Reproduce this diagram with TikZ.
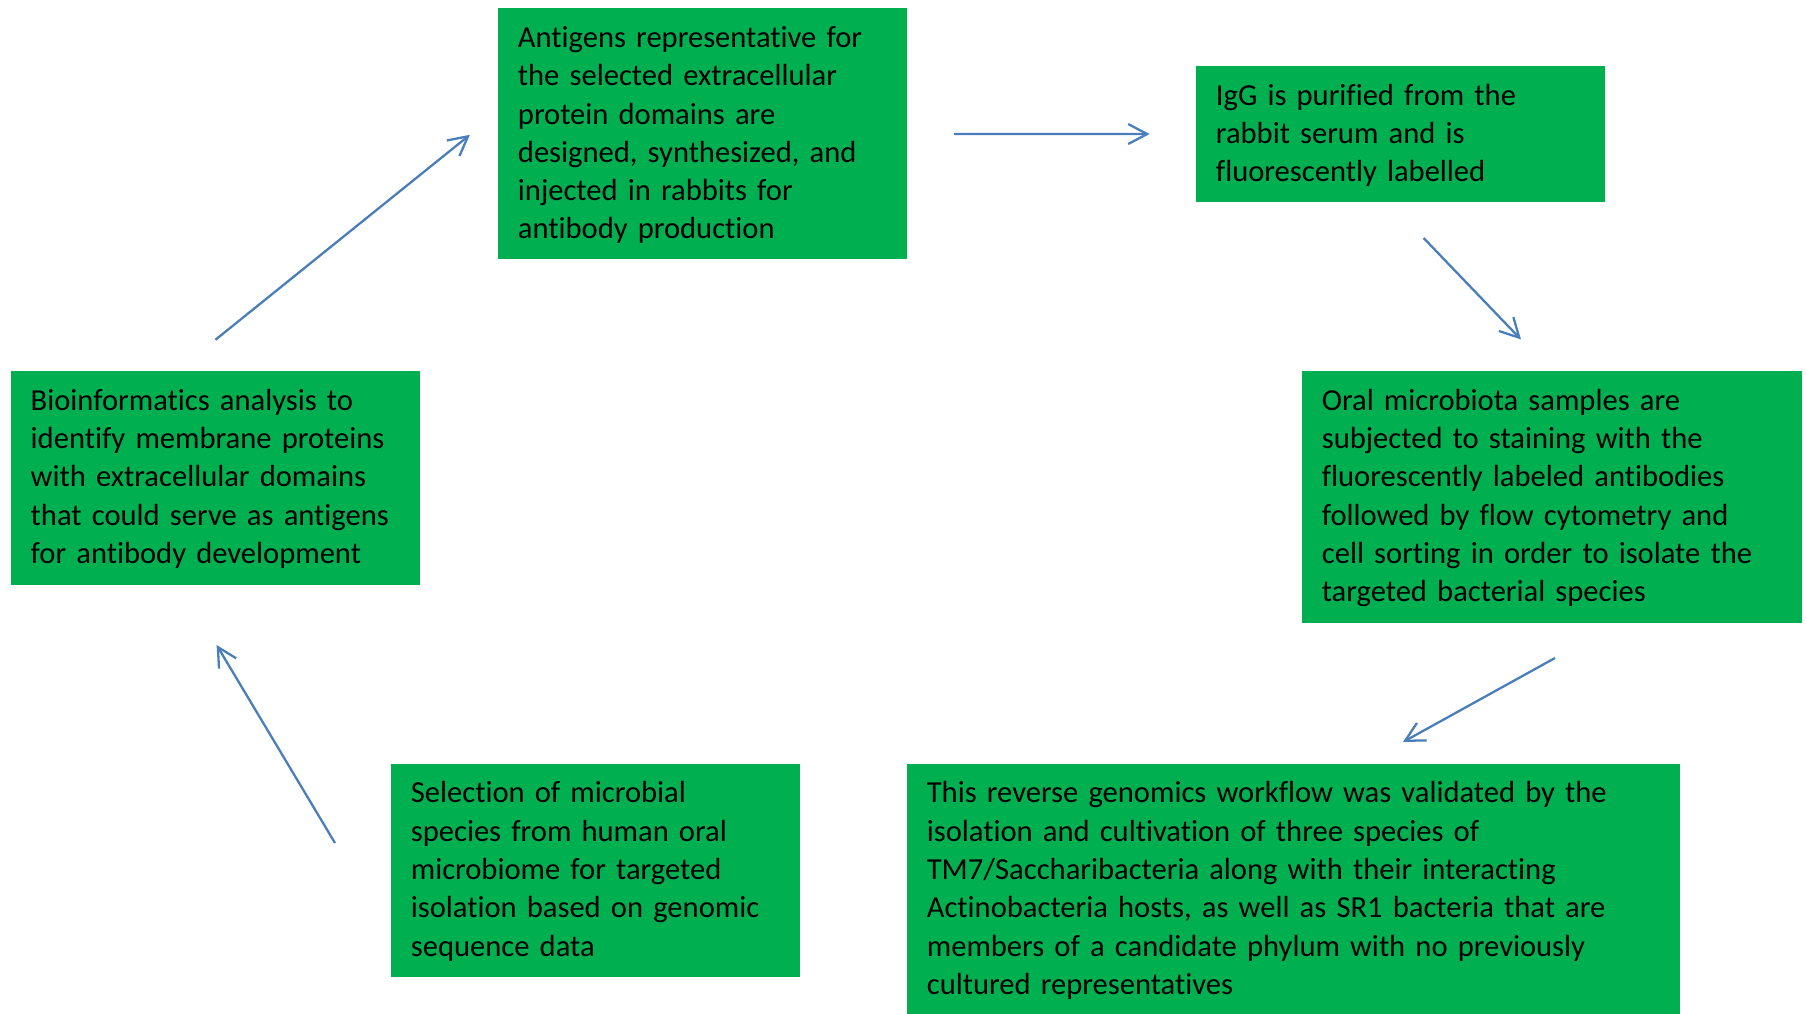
\documentclass[tikz,border=0pt]{standalone}
\usepackage{fontspec}
\setmainfont[Ligatures={NoCommon}]{Carlito}
\usepackage{xcolor}
\usepackage{tikz}
\usetikzlibrary{arrows.meta,positioning,calc}
\definecolor{cGreen}{HTML}{00B050}
\definecolor{cArrow}{HTML}{4A7EBB}
\tikzset{
  gbox/.style={fill=cGreen,draw=none,anchor=north west,align=left,inner xsep=0.4cm,inner ysep=0pt,
    text height=0.78cm,font={\fontsize{17.4}{21.8}\selectfont\hyphenpenalty=10000},text=black},
  arr/.style={-{Straight Barb[length=0.38cm,width=0.4cm]},line width=1.3pt,color=cArrow},
}

\begin{document}
\begin{tikzpicture}[x=0.02cm,y=-0.02cm]
  \useasboundingbox (0,0) rectangle (1806,1014);
  % steps of the cycle (top-left corners, text hangs from the top)
  \node[gbox,text width=7.38cm,text depth=4.24cm] (ant) at (497.6,8.1)
    {Antigens representative for\\the selected extracellular\\protein domains are\\designed, synthesized, and\\injected in rabbits for\\antibody production};
  \node[gbox,text width=7.38cm,text depth=1.94cm] (igg) at (1195.6,65.7)
    {IgG is purified from the\\rabbit serum and is\\fluorescently labelled};
  \node[gbox,text width=9.2cm,text depth=4.26cm] (oral) at (1301.5,370.9)
    {Oral microbiota samples are\\subjected to staining with the\\fluorescently labeled antibodies\\followed by flow cytometry and\\cell sorting in order to isolate the\\targeted bacterial species};
  \node[gbox,text width=14.66cm,text depth=4.22cm] (valid) at (906.5,763.6)
    {This reverse genomics workflow was validated by the\\isolation and cultivation of three species of\\TM7/Saccharibacteria along with their interacting\\Actinobacteria hosts, as well as SR1 bacteria that are\\members of a candidate phylum with no previously\\cultured representatives};
  \node[gbox,text width=7.38cm,text depth=3.48cm] (select) at (390.5,763.6)
    {Selection of microbial\\species from human oral\\microbiome for targeted\\isolation based on genomic\\sequence data};
  \node[gbox,text width=7.38cm,text depth=3.5cm] (bioinf) at (10.4,370.9)
    {Bioinformatics analysis to\\identify membrane proteins\\with extracellular domains\\that could serve as antigens\\for antibody development};
  % free arrow ends
  \coordinate (igg-s) at (1423.6,238);
  \coordinate (oral-n) at (1521,339.5);
  \coordinate (oral-s) at (1555,658);
  \coordinate (valid-n) at (1403,742);
  \coordinate (select-n) at (335,843);
  \coordinate (bioinf-s) at (216.6,645);
  \coordinate (bioinf-n) at (215.4,339.8);
  \coordinate (ant-w) at (469.9,134.8);
  % arrows
  \draw[arr,shorten <=0.94cm,shorten >=0.92cm] (ant.east) -- (igg.west);
  \draw[arr] (igg-s) -- (oral-n);
  \draw[arr] (oral-s) -- (valid-n);
  \draw[arr] (select-n) -- (bioinf-s);
  \draw[arr] (bioinf-n) -- (ant-w);
\end{tikzpicture}
\end{document}
